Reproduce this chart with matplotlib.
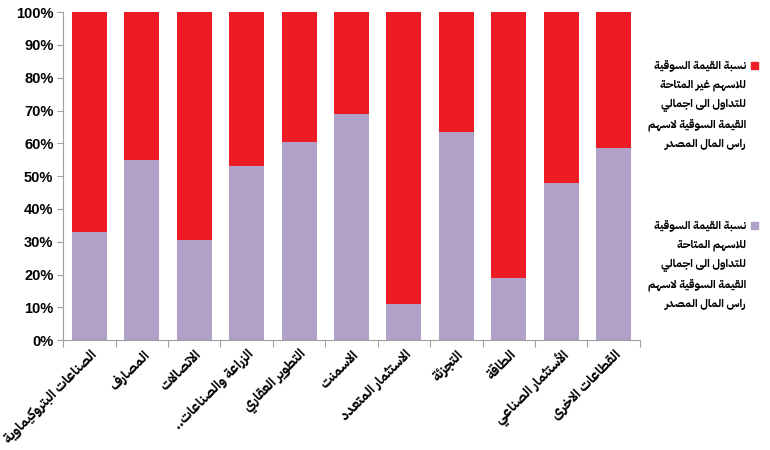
import numpy as np
import matplotlib
matplotlib.use("Agg")
import matplotlib.pyplot as plt
from matplotlib.patches import Rectangle

# --- data ---------------------------------------------------------------
sectors = ["الصناعات البتروكيماوية", "المصارف", "الاتصالات", "الزراعة والصناعات..",
           "التطوير العقاري", "الاسمنت", "الاستثمار المتعدد", "التجزئة", "الطاقة",
           "الأستثمار الصناعي", "القطاعات الاخرى"]
available_pct = [33, 55, 30.5, 53, 60.5, 69, 11, 63.5, 19, 48, 58.5]
unavailable_pct = [100 - v for v in available_pct]
legend_unavail = ["نسبة القيمة السوقية", "للاسهم غير المتاحة", "للتداول الى اجمالي",
                  "القيمة السوقية لاسهم", "راس المال المصدر"]
legend_avail = ["نسبة القيمة السوقية", "للاسهم المتاحة", "للتداول الى اجمالي",
                "القيمة السوقية لاسهم", "راس المال المصدر"]

RED, PURPLE = "#ED1C24", "#B1A0C7"
AR_FONT = ["IBM Plex Sans Arabic", "Tajawal", "DejaVu Sans"]


# --- tiny arabic shaper (matplotlib has no complex text layout) ----------
def _forms():
    # (letter, number of presentation forms) in Unicode order, FE80 onwards
    seq = [("ء", 1), ("آ", 2), ("أ", 2), ("ؤ", 2), ("إ", 2), ("ئ", 4), ("ا", 2), ("ب", 4),
           ("ة", 2), ("ت", 4), ("ث", 4), ("ج", 4), ("ح", 4), ("خ", 4), ("د", 2), ("ذ", 2),
           ("ر", 2), ("ز", 2), ("س", 4), ("ش", 4), ("ص", 4), ("ض", 4), ("ط", 4), ("ظ", 4),
           ("ع", 4), ("غ", 4), ("ف", 4), ("ق", 4), ("ك", 4), ("ل", 4), ("م", 4), ("ن", 4),
           ("ه", 4), ("و", 2), ("ى", 2), ("ي", 4)]
    out, cp = {}, 0xFE80
    for ch, n in seq:
        out[ch] = (cp, n)
        cp += n
    return out

FORMS = _forms()
LAMALEF = {"آ": 0xFEF5, "أ": 0xFEF7, "إ": 0xFEF9, "ا": 0xFEFB}


def shape(s):
    res = []
    i = 0
    def dual(c):
        return c in FORMS and FORMS[c][1] == 4
    def joins(c):
        return c in FORMS and FORMS[c][1] > 1
    while i < len(s):
        c = s[i]
        prev = s[i - 1] if i > 0 else ""
        nxt = s[i + 1] if i + 1 < len(s) else ""
        if c not in FORMS:
            res.append(c); i += 1; continue
        if c == "ل" and nxt in LAMALEF:
            res.append(chr(LAMALEF[nxt] + (1 if dual(prev) else 0)))
            i += 2; continue
        base, n = FORMS[c]
        r = dual(prev)
        l = n == 4 and joins(nxt)
        if n == 1:
            g = base
        elif n == 2:
            g = base + (1 if r else 0)
        else:
            g = base + (3 if (r and l) else 2 if l else 1 if r else 0)
        res.append(chr(g)); i += 1
    return "".join(res)[::-1]


plt.rcParams["font.family"] = ["Liberation Sans", "DejaVu Sans"]
fig = plt.figure(figsize=(7.7, 4.5), dpi=100)
ax = fig.add_axes([0.082, 0.244, 0.749, 0.729])

x = np.arange(len(sectors))
ax.bar(x, available_pct, width=0.67, color=PURPLE)
ax.bar(x, unavailable_pct, width=0.67, bottom=available_pct, color=RED)

ax.set_xlim(-0.5, len(sectors) - 0.5)
ax.set_ylim(0, 100)
ax.set_yticks(np.arange(0, 101, 10))
ax.set_yticklabels([f"{v}%" for v in range(0, 101, 10)], fontsize=10.5, fontweight="bold")
ax.set_xticks(np.arange(-0.5, len(sectors), 1.0))
ax.set_xticklabels([])
ax.set_xticks(x, minor=True)
ax.set_xticklabels([shape(s) for s in sectors], minor=True, rotation=45, ha="right",
                   rotation_mode="anchor", fontsize=10, fontweight="bold", family=AR_FONT)
ax.tick_params(axis="x", which="minor", length=0, pad=5)
ax.tick_params(axis="x", which="major", length=5, color="#A0A0A0")
ax.tick_params(axis="y", length=4, color="#A0A0A0", pad=3)
for sp in ["top", "right"]:
    ax.spines[sp].set_visible(False)
for sp in ["left", "bottom"]:
    ax.spines[sp].set_color("#A0A0A0")

# legend drawn by hand: right aligned arabic text, square marker on the right,
# one text per line so the line pitch stays even (20 px)
for lines, col, ycen in [(legend_unavail, RED, 65), (legend_avail, PURPLE, 225)]:
    for k, t in enumerate(lines):
        fig.text(746 / 770, 1 - (ycen + 20 * k) / 450, shape(t), ha="right", va="center",
                 fontsize=8.2, fontweight="bold", family=AR_FONT)
    fig.patches.append(Rectangle((751 / 770, 1 - (ycen + 3.5) / 450), 7 / 770, 7 / 450,
                                 color=col, transform=fig.transFigure, figure=fig))

fig.savefig("out.png", dpi=100)
